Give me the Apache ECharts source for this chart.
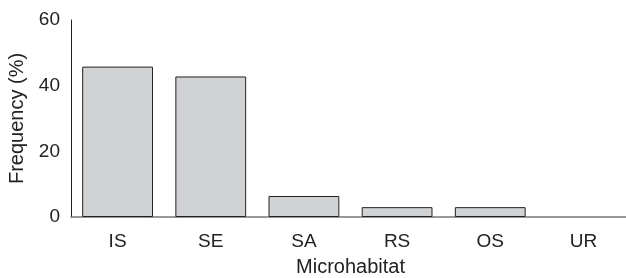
<!DOCTYPE html>
<html>
<head>
<meta charset="utf-8">
<script src="https://cdn.jsdelivr.net/npm/echarts@6/dist/echarts.min.js"></script>
<style>
  html, body { margin: 0; padding: 0; background: #fff; }
  #chart { width: 626px; height: 278px; }
</style>
</head>
<body>
<div id="chart"></div>
<script>
var categories = ['IS', 'SE', 'SA', 'RS', 'OS', 'UR'];
var frequency = [45.8, 42.8, 6.4, 3.0, 3.0, 0];
var yTicks = [0, 20, 40, 60];

var chart = echarts.init(document.getElementById('chart'));
var font = 'Liberation Sans, Arial, Helvetica, sans-serif';

var option = {
    animation: false,
    grid: {
        left: 71,
        right: -4,
        top: 20,
        bottom: 61,
        outerBoundsMode: 'none'
    },
    xAxis: {
        type: 'category',
        data: categories,
        name: 'Microhabitat',
        nameLocation: 'middle',
        nameGap: 40,
        nameTextStyle: { fontFamily: font, fontSize: 20, color: '#222' },
        axisLine: { lineStyle: { color: '#777', width: 1.5 } },
        axisTick: { show: false },
        axisLabel: { fontFamily: font, fontSize: 19, color: '#222', margin: 15 }
    },
    yAxis: {
        type: 'value',
        min: yTicks[0],
        max: yTicks[yTicks.length - 1],
        interval: 20,
        name: 'Frequency (%)',
        nameLocation: 'middle',
        nameGap: 43,
        nameTextStyle: { fontFamily: font, fontSize: 20, color: '#222' },
        axisLine: { show: true, lineStyle: { color: '#222', width: 1 } },
        axisTick: { show: false },
        splitLine: { show: false },
        axisLabel: { fontFamily: font, fontSize: 19, color: '#222', margin: 11 }
    },
    series: [{
        type: 'bar',
        data: frequency.map(function (v) {
            // an empty category draws no outline on the axis
            return v === 0 ? { value: v, itemStyle: { borderWidth: 0 } } : v;
        }),
        barWidth: '76%',
        itemStyle: {
            color: '#d1d2d4',
            borderColor: '#222',
            borderWidth: 1
        }
    }]
};
chart.setOption(option);
</script>
</body>
</html>
